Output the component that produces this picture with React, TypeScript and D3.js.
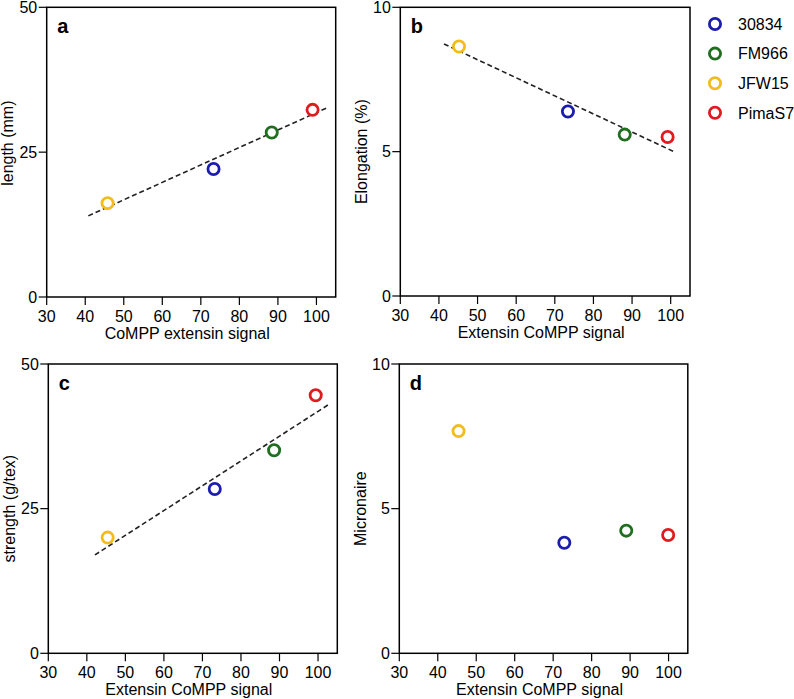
import React from "react";
import * as d3 from "d3";

const cultivars = ["30834", "FM966", "JFW15", "PimaS7"];
const colors = ["#1c1cad", "#1f6f1f", "#f2bd1b", "#e01b1f"];

const xTicks = [30, 40, 50, 60, 70, 80, 90, 100];

const aX = [73.3, 88.4, 45.8, 99.0];
const aY = [22.1, 28.4, 16.2, 32.3];
const aTrend = [[40.8, 14.0], [102.9, 32.7]];

const bX = [73.4, 88.1, 45.2, 99.2];
const bY = [6.39, 5.59, 8.64, 5.51];
const bTrend = [[41.3, 8.73], [101.0, 4.99]];

const cX = [73.2, 88.6, 45.4, 99.4];
const cY = [28.4, 35.1, 20.0, 44.6];
const cTrend = [[42.1, 17.0], [103.0, 43.1]];

const dX = [72.9, 89.0, 45.4, 99.9];
const dY = [3.82, 4.24, 7.68, 4.09];

const FONT = "'Liberation Sans', Arial, Helvetica, sans-serif";
const FS = 16;

type PanelProps = {
  left: number; top: number; width: number; height: number;
  letter: string; xTitle: string; yTitle: string;
  yMax: number; yTicks: number[];
  xs: number[]; ys: number[]; trend?: number[][];
  yTitleShift?: number;
};

function Panel(p: PanelProps) {
  const x = d3.scaleLinear().domain([30, 105]).range([0, p.width]);
  const y = d3.scaleLinear().domain([0, p.yMax]).range([p.height, 0]);
  const line = d3.line<number[]>().x(d => x(d[0])).y(d => y(d[1]));
  return (
    <g transform={`translate(${p.left},${p.top})`}>
      <rect x={0} y={0} width={p.width} height={p.height} fill="none" stroke="#000" strokeWidth={1.5} />
      {xTicks.map(t => (
        <g key={"x" + t} transform={`translate(${x(t)},${p.height})`}>
          <line y1={0} y2={8} stroke="#000" strokeWidth={1.2} />
          <text y={24.5} textAnchor="middle" fontSize={FS} fontFamily={FONT}>{t}</text>
        </g>
      ))}
      {p.yTicks.map(t => (
        <g key={"y" + t} transform={`translate(0,${y(t)})`}>
          <line x1={-8} x2={0} stroke="#000" strokeWidth={1.2} />
          <text x={-9.5} dy="0.35em" textAnchor="end" fontSize={FS} fontFamily={FONT}>{t}</text>
        </g>
      ))}
      <text x={p.width / 2 - 4} y={p.height + 42} textAnchor="middle" fontSize={FS} fontFamily={FONT}>{p.xTitle}</text>
      <text transform={`translate(-33.5,${p.height / 2 + (p.yTitleShift || 0)}) rotate(-90)`} textAnchor="middle" fontSize={FS} fontFamily={FONT}>{p.yTitle}</text>
      <text x={10.5} y={26} fontSize={20} fontWeight="bold" fontFamily={FONT}>{p.letter}</text>
      {p.trend && (
        <path d={line(p.trend) || ""} fill="none" stroke="#222" strokeWidth={1.6} strokeDasharray="5,3" />
      )}
      {p.xs.map((v, i) => (
        <circle key={i} cx={x(v)} cy={y(p.ys[i])} r={5.6} fill="#fff" stroke={colors[i]} strokeWidth={2.8} />
      ))}
    </g>
  );
}

export default function App() {
  return (
    <svg width={794} height={699} style={{ position: "absolute", left: 0, top: 0, background: "#fff" }}>
      <Panel left={46.7} top={7.3} width={289} height={289.7} letter="a"
        xTitle="CoMPP extensin signal" yTitle="length (mm)" yMax={50} yTicks={[0, 25, 50]}
        xs={aX} ys={aY} trend={aTrend} yTitleShift={-9} />
      <Panel left={400.3} top={7.3} width={289.7} height={288.7} letter="b"
        xTitle="Extensin CoMPP signal" yTitle="Elongation (%)" yMax={10} yTicks={[0, 5, 10]}
        xs={bX} ys={bY} trend={bTrend} />
      <Panel left={48.3} top={364} width={289} height={289.3} letter="c"
        xTitle="Extensin CoMPP signal" yTitle="strength (g/tex)" yMax={50} yTicks={[0, 25, 50]}
        xs={cX} ys={cY} trend={cTrend} />
      <Panel left={399.3} top={364} width={288.5} height={289.3} letter="d"
        xTitle="Extensin CoMPP signal" yTitle="Micronaire" yMax={10} yTicks={[0, 5, 10]}
        xs={dX} ys={dY} />
      {cultivars.map((c, i) => (
        <g key={c} transform={`translate(715,${24 + i * 29.6})`}>
          <circle r={5.6} fill="#fff" stroke={colors[i]} strokeWidth={2.8} />
          <text x={23} dy="0.36em" fontSize={FS} fontFamily={FONT}>{c}</text>
        </g>
      ))}
    </svg>
  );
}
